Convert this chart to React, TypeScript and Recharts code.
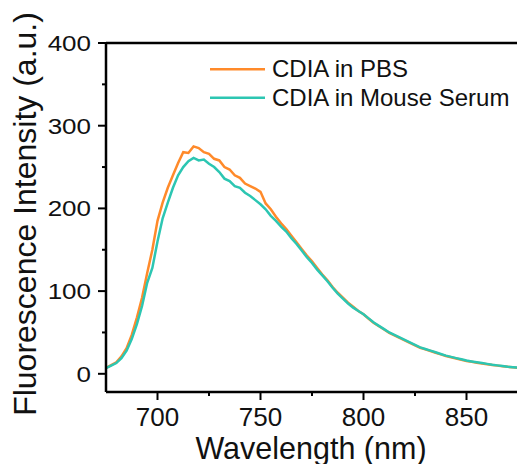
import { LineChart, Line, XAxis, YAxis, Label, ReferenceLine } from 'recharts'

const wavelength = [
  675, 677.5, 680, 682.5, 685, 687.5, 690, 692.5, 695, 697.5,
  700, 702.5, 705, 707.5, 710, 712.5, 715, 717.5, 720, 722.5,
  725, 727.5, 730, 732.5, 735, 737.5, 740, 742.5, 745, 747.5,
  750, 752.5, 755, 757.5, 760, 762.5, 765, 767.5, 770, 772.5,
  775, 777.5, 780, 782.5, 785, 787.5, 790, 792.5, 795, 797.5,
  800, 802.5, 805, 807.5, 810, 812.5, 815, 817.5, 820, 822.5,
  825, 827.5, 830, 832.5, 835, 837.5, 840, 842.5, 845, 847.5,
  850, 852.5, 855, 857.5, 860, 862.5, 865, 867.5, 870, 872.5, 875,
]

const pbs = [
  7, 10.5, 14, 21, 31, 47, 68, 92, 122, 150,
  185, 207, 225, 240, 255, 268, 267, 275, 273, 268,
  266, 260, 258, 250, 247, 240, 237, 230, 227, 224,
  220, 206, 199, 190, 182, 175, 167, 159, 151, 143,
  136, 128, 120, 113, 105, 98, 92, 86, 81, 76,
  72, 66.5, 61.5, 57.5, 53.5, 49.5, 46.5, 43.5, 40.5, 37.5,
  34.5, 31.5, 29.5, 27.5, 25.5, 23.5, 21.5, 20, 18.5, 17,
  15.5, 14.5, 13.5, 12.5, 11.5, 10.7, 9.9, 9.1, 8.4, 7.8, 7.3,
]

const serum = [
  7, 10, 13, 19, 28, 42, 60, 82, 110, 128,
  160, 188, 207, 225, 240, 250, 257, 261, 258, 259,
  254, 250, 244, 236, 233, 227, 225, 219, 215, 210,
  205, 199, 191, 185, 178, 172, 164, 157, 149, 141,
  134, 126, 119, 112, 104, 97, 91, 85, 80, 76,
  72, 67, 62, 58, 54, 50, 47, 44, 41, 38,
  35, 32, 30, 28, 26, 24, 22, 20.5, 19, 17.5,
  16, 15, 14, 13, 12, 11, 10.2, 9.4, 8.6, 8, 7.5,
]

const xTicks = [700, 725, 750, 775, 800, 825, 850, 875]
const xMajor = [700, 750, 800, 850]
const yTicks = [0, 50, 100, 150, 200, 250, 300, 350, 400]
const yMajor = [0, 100, 200, 300, 400]

const ORANGE = '#FF8A2A'
const TEAL = '#2CC6B2'
const INK = '#111'
const FONT = '"Liberation Sans", Arial, sans-serif'

const data = wavelength.map((w, i) => ({ w, pbs: pbs[i], serum: serum[i] }))

const series = [
  { key: 'pbs', name: 'CDIA in PBS', color: ORANGE },
  { key: 'serum', name: 'CDIA in Mouse Serum', color: TEAL },
]

function XTick(props: any) {
  const { x, y, payload } = props
  const major = xMajor.includes(payload.value)
  return (
    <g>
      <line x1={x} x2={x} y1={y} y2={y + (major ? 8 : 4)} stroke="#000" strokeWidth={2} />
      {major && (
        <text x={x} y={y + 34} textAnchor="middle" fontSize={26} fontFamily={FONT} fill={INK}>
          {payload.value}
        </text>
      )}
    </g>
  )
}

function YTick(props: any) {
  const { x, y, payload } = props
  const major = yMajor.includes(payload.value)
  return (
    <g>
      <line x1={x} x2={x - (major ? 8 : 4)} y1={y} y2={y} stroke="#000" strokeWidth={2} />
      {major && (
        // labels on this axis look a bit squashed vertically in the original
        <text
          x={x - 15}
          y={0}
          textAnchor="end"
          fontSize={26}
          fontFamily={FONT}
          fill={INK}
          transform={`translate(0 ${y + 8}) scale(1 0.84)`}
        >
          {payload.value}
        </text>
      )}
    </g>
  )
}

function LegendBox() {
  return (
    <g fontFamily={FONT} fontSize={24} fill={INK}>
      {series.map((s, i) => {
        const cy = 69.3 + i * 28.4
        return (
          <g key={s.key}>
            <line x1={210} x2={265} y1={cy} y2={cy} stroke={s.color} strokeWidth={2.5} />
            <text x={272} y={cy + 8}>{s.name}</text>
          </g>
        )
      })}
    </g>
  )
}

export default function App() {
  return (
    <div style={{ position: 'absolute', left: 0, top: 0, width: 517, height: 464, overflow: 'hidden', background: '#fff' }}>
      <LineChart
        width={530}
        height={464}
        data={data}
        margin={{ top: 43, right: 12, left: 0, bottom: 32 }}
      >
        <XAxis
          type="number"
          dataKey="w"
          domain={[675, 875]}
          ticks={xTicks}
          interval={0}
          tickSize={0}
          tickMargin={0}
          height={40}
          allowDataOverflow
          axisLine={{ stroke: '#000', strokeWidth: 2.5 }}
          tickLine={false}
          tick={<XTick />}
        >
          <Label
            content={() => (
              <text x={311} y={459} textAnchor="middle" fontSize={30.5} fontFamily={FONT} fill={INK}>
                Wavelength (nm)
              </text>
            )}
          />
        </XAxis>
        <YAxis
          type="number"
          domain={[-22, 400]}
          ticks={yTicks}
          interval={0}
          tickSize={0}
          tickMargin={0}
          width={106}
          allowDataOverflow
          axisLine={{ stroke: '#000', strokeWidth: 2.5 }}
          tickLine={false}
          tick={<YTick />}
        >
          <Label
            content={() => (
              <g>
                <text
                  x={36}
                  y={214}
                  textAnchor="middle"
                  fontSize={32}
                  fontFamily={FONT}
                  fill={INK}
                  transform="rotate(-90 36 214)"
                >
                  Fluorescence Intensity (a.u.)
                </text>
                <LegendBox />
              </g>
            )}
          />
        </YAxis>
        {/* top frame */}
        <ReferenceLine y={400} stroke="#000" strokeWidth={2.5} />
        {series.map((s) => (
          <Line
            key={s.key}
            dataKey={s.key}
            name={s.name}
            stroke={s.color}
            strokeWidth={2.5}
            dot={false}
            activeDot={false}
            type="linear"
            isAnimationActive={false}
          />
        ))}
      </LineChart>
    </div>
  )
}
